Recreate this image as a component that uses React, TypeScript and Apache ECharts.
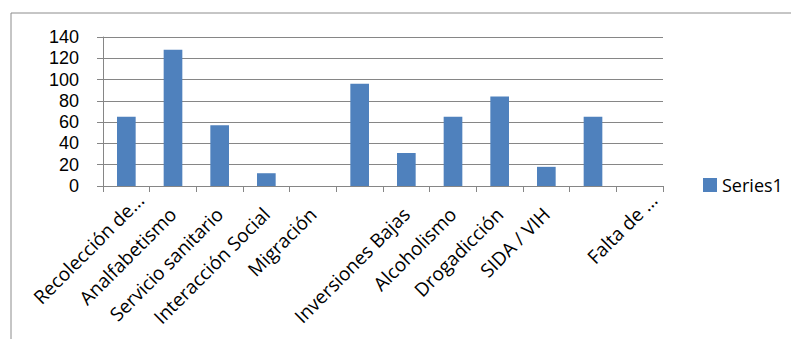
import React, { useEffect, useRef } from "react";
import * as echarts from "echarts";

// Category labels (two categories carry no label text)
const categories: string[] = [
  "Recolección de...",
  "Analfabetismo",
  "Servicio sanitario",
  "Interacción Social",
  "Migración",
  "",
  "Inversiones Bajas",
  "Alcoholismo",
  "Drogadicción",
  "SIDA / VIH",
  "",
  "Falta de ...",
];

// Series1 values per category
const series1: number[] = [65, 128, 57, 12, 0, 96, 31, 65, 84, 18, 65, 0];

const seriesName = "Series1";

// Value axis range
const yMin = 0;
const yMax = 140;
const yStep = 20;

const FONT = "'Open Sans', 'Noto Sans', sans-serif";
const NUM_FONT = "'Liberation Sans', Arial, sans-serif";
const GRID_GRAY = "#868686";
const BAR_BLUE = "#4F81BD";

// Truncated labels sit a bit further along their baseline
const shiftedLabels = new Set(["Recolección de...", "Falta de ..."]);

export default function App() {
  const ref = useRef<HTMLDivElement>(null);

  useEffect(() => {
    if (!ref.current) return;
    const chart = echarts.init(ref.current, null, { renderer: "svg" });

    const axisData = categories.map((c) =>
      shiftedLabels.has(c)
        ? { value: c, textStyle: { padding: [0, -20, 0, 0] } }
        : c
    );

    chart.setOption({
      animation: false,
      backgroundColor: "#ffffff",
      textStyle: { fontFamily: FONT },
      graphic: [
        {
          type: "rect",
          shape: { x: 11, y: 13, width: 900, height: 400 },
          style: { fill: "none", stroke: "#8c8c8c", lineWidth: 1 },
          silent: true,
        },
      ],
      grid: {
        left: 103,
        right: 128,
        top: 37,
        bottom: 153,
        containLabel: false,
        outerBoundsMode: "none",
      },
      legend: {
        data: [seriesName],
        left: 698,
        top: 171,
        orient: "vertical",
        icon: "rect",
        itemWidth: 14,
        itemHeight: 14,
        itemGap: 6,
        textStyle: { fontFamily: FONT, fontSize: 18, color: "#000" },
      },
      xAxis: {
        type: "category",
        data: axisData,
        axisLine: { show: true, lineStyle: { color: GRID_GRAY, width: 1 } },
        axisTick: {
          show: true,
          alignWithLabel: false,
          length: 6,
          lineStyle: { color: GRID_GRAY },
        },
        axisLabel: {
          interval: 0,
          rotate: 45,
          margin: 25,
          fontFamily: FONT,
          fontSize: 19,
          lineHeight: 20,
          color: "#000",
        },
        splitLine: { show: false },
      },
      yAxis: {
        type: "value",
        min: yMin,
        max: yMax,
        interval: yStep,
        axisLine: { show: true, lineStyle: { color: GRID_GRAY, width: 1 } },
        axisTick: { show: true, length: 6, lineStyle: { color: GRID_GRAY } },
        axisLabel: {
          margin: 24,
          fontFamily: NUM_FONT,
          fontSize: 18,
          lineHeight: 19,
          color: "#000",
        },
        splitLine: { show: true, lineStyle: { color: GRID_GRAY, width: 1 } },
      },
      series: [
        {
          name: seriesName,
          type: "bar",
          data: series1,
          barWidth: "40%",
          itemStyle: { color: BAR_BLUE },
        },
      ],
    });

    return () => chart.dispose();
  }, []);

  return (
    <div
      ref={ref}
      style={{ position: "fixed", left: 0, top: 0, width: 791, height: 339 }}
    />
  );
}
